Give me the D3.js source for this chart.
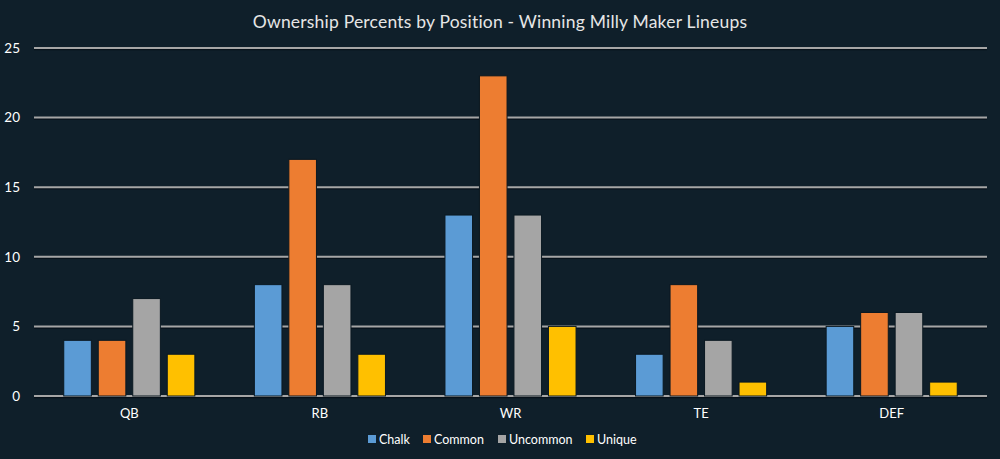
<!DOCTYPE html>
<html><head><meta charset="utf-8">
<script src="https://cdn.jsdelivr.net/npm/d3@7"></script>
<style>
html,body{margin:0;padding:0;background:#0f1f2a;}
svg{display:block;}
text{font-family:Lato,"Noto Sans",sans-serif;}
</style></head>
<body><svg id="c" width="1000" height="459"></svg>
<script>
const categories = ["QB","RB","WR","TE","DEF"];
const seriesNames = ["Chalk","Common","Uncommon","Unique"];
const chalk    = [4, 8, 13, 3, 5];
const common   = [4, 17, 23, 8, 6];
const uncommon = [7, 8, 13, 4, 6];
const unique   = [3, 3, 5, 1, 1];
const yTicks = [0,5,10,15,20,25];
const colors = ["#5b9bd5","#ed7d31","#a5a5a5","#ffc000"];

(function(){
const series = [chalk, common, uncommon, unique];
const svg = d3.select("#c");
svg.append("rect").attr("width",1000).attr("height",459).attr("fill","#0f1f2a");

const pLeft = 34, pRight = 987, pTop = 48, pBottom = 396;
const x0 = d3.scaleBand().domain(categories).range([pLeft, pRight]).padding(0);
const y = d3.scaleLinear().domain([0,25]).range([pBottom, pTop]);
const x1 = d3.scaleBand().domain(seriesNames).range([-69, 69]).paddingInner(0.2).paddingOuter(0.1);

// gridlines
const grid = svg.append("g");
yTicks.forEach(t => {
  grid.append("line").attr("x1",pLeft).attr("x2",pRight).attr("y1",y(t)+1.5).attr("y2",y(t)+1.5)
    .attr("stroke","#07111a").attr("stroke-width",1.5);
  grid.append("line").attr("x1",pLeft).attr("x2",pRight).attr("y1",y(t)).attr("y2",y(t))
    .attr("stroke","#a6a6a6").attr("stroke-width",2);
});

// y axis labels
const yAxis = d3.axisLeft(y).tickValues(yTicks).tickSize(0).tickPadding(0);
const ya = svg.append("g").attr("transform",`translate(${pLeft-14},0)`).call(yAxis);
ya.select(".domain").remove();
ya.selectAll("text").attr("fill","#ffffff").style("font-size","13.5px").style("font-family","Lato,'Noto Sans',sans-serif");

// bars
categories.forEach((cat, ci) => {
  const cx = x0(cat) + x0.bandwidth()/2;
  seriesNames.forEach((s, si) => {
    const v = series[si][ci];
    svg.append("rect")
      .attr("x", cx + x1(s))
      .attr("y", y(v))
      .attr("width", x1.bandwidth())
      .attr("height", y(0) - y(v))
      .attr("fill", colors[si])
      .attr("stroke", "#0a1821").attr("stroke-width", 1);
  });
});

// x axis labels
const xAxis = d3.axisBottom(x0).tickSize(0).tickPadding(0);
const xa = svg.append("g").attr("transform",`translate(0,${pBottom+13})`).call(xAxis);
xa.select(".domain").remove();
xa.selectAll("text").attr("fill","#ffffff").style("font-size","13px").style("font-family","Lato,'Noto Sans',sans-serif");

// title
svg.append("text").attr("x",500).attr("y",28).attr("text-anchor","middle")
  .attr("fill","#e6e6e6").style("font-size","17.5px").style("letter-spacing","0.2px")
  .text("Ownership Percents by Position - Winning Milly Maker Lineups");

// legend
const legendX = [368, 423, 498, 586];
const lg = svg.append("g");
seriesNames.forEach((s, i) => {
  lg.append("rect").attr("x",legendX[i]).attr("y",435).attr("width",8).attr("height",8).attr("fill",colors[i]);
  lg.append("text").attr("x",legendX[i]+11).attr("y",443.5).attr("fill","#ffffff")
    .style("font-size","12.5px").text(s);
});
})();
</script></body></html>
